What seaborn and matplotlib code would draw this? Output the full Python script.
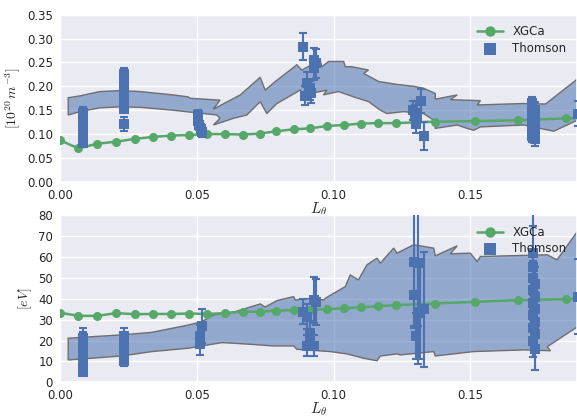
import numpy as np
import pandas as pd
import matplotlib
matplotlib.use("Agg")
import matplotlib.pyplot as plt
import seaborn as sns

# ---------------- data ----------------
xgca_x = [0.0, 0.0067, 0.0137, 0.0205, 0.0273, 0.0340, 0.0407, 0.0473, 0.0539, 0.0604,
          0.0668, 0.0732, 0.0791, 0.0854, 0.0915, 0.0976, 0.1038, 0.1100, 0.1164, 0.1229,
          0.1370, 0.1516, 0.1676, 0.1851, 0.2000]
xgca_ne = [0.087, 0.070, 0.080, 0.084, 0.090, 0.094, 0.097, 0.098, 0.100, 0.100,
           0.099, 0.101, 0.106, 0.110, 0.112, 0.117, 0.119, 0.122, 0.123, 0.123,
           0.126, 0.127, 0.129, 0.133, 0.135]
xgca_te = [33.3, 31.8, 31.8, 33.1, 32.6, 32.7, 32.7, 32.9, 32.7, 33.1,
           33.8, 33.8, 34.3, 34.5, 34.6, 35.0, 35.4, 35.9, 36.4, 36.9,
           37.7, 38.5, 39.3, 39.8, 40.5]

# Thomson density: x, value, error
th_ne_x = [0.0085] * 9 + [0.0234] * 9 + [0.0234] + \
          [0.0505, 0.0505, 0.0508, 0.0515, 0.0518] + \
          [0.0887, 0.0927, 0.0937, 0.0927, 0.0903, 0.0915, 0.0896, 0.0917] + \
          [0.1290, 0.1300, 0.1305, 0.1320, 0.1330, 0.1300, 0.1298] + \
          [0.1725] * 8 + [0.1738] * 4 + [0.1892]
th_ne = [0.082, 0.090, 0.098, 0.106, 0.114, 0.122, 0.130, 0.138, 0.144] + \
        [0.152, 0.162, 0.172, 0.182, 0.192, 0.202, 0.212, 0.222, 0.226] + [0.121] + \
        [0.140, 0.128, 0.118, 0.110, 0.104] + \
        [0.283, 0.255, 0.248, 0.238, 0.206, 0.192, 0.180, 0.185] + \
        [0.150, 0.145, 0.133, 0.170, 0.096, 0.122, 0.140] + \
        [0.095, 0.105, 0.115, 0.125, 0.135, 0.145, 0.155, 0.165] + [0.090, 0.110, 0.130, 0.150] + \
        [0.143]
th_ne_err = [0.009, 0.01, 0.01, 0.01, 0.01, 0.01, 0.01, 0.01, 0.012] + \
            [0.007, 0.01, 0.01, 0.01, 0.01, 0.01, 0.01, 0.01, 0.012] + [0.014] + \
            [0.011, 0.01, 0.01, 0.012, 0.01] + \
            [0.028, 0.025, 0.03, 0.025, 0.025, 0.02, 0.02, 0.02] + \
            [0.02, 0.025, 0.02, 0.025, 0.03, 0.02, 0.02] + \
            [0.012] * 8 + [0.015, 0.012, 0.012, 0.018] + [0.026]

# Thomson temperature: x, value, error
th_te_x = [0.0085] * 9 + [0.0234] * 7 + \
          [0.0518, 0.0510, 0.0512] + \
          [0.0887, 0.0903, 0.0927, 0.0937, 0.0915, 0.0903, 0.0927, 0.0915] + \
          [0.1293, 0.1310, 0.1295, 0.1317, 0.1330, 0.1300, 0.1310] + \
          [0.1728] * 8 + [0.1735] * 6 + [0.1892]
th_te = [5, 7, 9, 11, 13, 15, 17, 19, 21] + [10, 12, 14, 16, 18, 20, 22] + \
        [27.0, 22.2, 18.2] + \
        [33.8, 31.4, 39.4, 38.6, 23.5, 17.4, 17.4, 20.3] + \
        [57.8, 57.0, 41.8, 33.0, 35.0, 22.2, 33.8] + \
        [62, 55, 50, 44, 38, 32, 26, 20] + [47, 41, 35, 29, 23, 16] + \
        [41.0]
th_te_err = [2, 2, 2, 2, 2, 2, 2, 5, 5] + [2, 2, 2, 2, 2, 2, 3.8] + \
            [8, 5, 5] + \
            [6, 6, 11, 11, 6, 5, 5, 5] + \
            [32, 30, 15, 22, 27.5, 11, 25] + \
            [30, 20, 8, 8, 8, 8, 8, 8] + [8, 8, 8, 8, 8, 10] + \
            [18]

# model band (ne)
band_ne_xu = [0.0030, 0.0073, 0.0146, 0.0220, 0.0293, 0.0413, 0.0468, 0.0476, 0.0585, 0.0560,
              0.0659, 0.0732, 0.0750, 0.0787, 0.0866, 0.0884, 0.0951, 0.0957, 0.0982, 0.1037,
              0.1043, 0.1067, 0.1128, 0.1110, 0.1165, 0.1232, 0.1293, 0.1329, 0.1372, 0.1372,
              0.1452, 0.1427, 0.1537, 0.1525, 0.1695, 0.1775, 0.1891, 0.1939]
band_ne_yu = [0.176, 0.180, 0.189, 0.191, 0.189, 0.182, 0.178, 0.175, 0.171, 0.152,
              0.182, 0.219, 0.192, 0.210, 0.245, 0.234, 0.255, 0.241, 0.252, 0.252,
              0.241, 0.241, 0.234, 0.227, 0.210, 0.204, 0.200, 0.196, 0.185, 0.173,
              0.182, 0.172, 0.170, 0.161, 0.164, 0.163, 0.215, 0.235]
band_ne_xl = [0.0030, 0.0073, 0.0146, 0.0220, 0.0293, 0.0413, 0.0476, 0.0573, 0.0585, 0.0561,
              0.0634, 0.0683, 0.0732, 0.0756, 0.0793, 0.0878, 0.0890, 0.0976, 0.0963, 0.1018,
              0.1073, 0.1128, 0.1171, 0.1195, 0.1256, 0.1329, 0.1366, 0.1372, 0.1452, 0.1488,
              0.1512, 0.1537, 0.1695, 0.1805, 0.1891, 0.1939]
band_ne_yl = [0.140, 0.147, 0.155, 0.157, 0.156, 0.150, 0.146, 0.140, 0.133, 0.119,
              0.133, 0.140, 0.168, 0.143, 0.164, 0.192, 0.182, 0.192, 0.182, 0.189,
              0.178, 0.168, 0.150, 0.143, 0.147, 0.143, 0.129, 0.112, 0.119, 0.112,
              0.108, 0.115, 0.119, 0.106, 0.129, 0.140]

# model band (Te)
band_te_xu = [0.0030, 0.0226, 0.0336, 0.0469, 0.0518, 0.0561, 0.0640, 0.0732, 0.0750, 0.0793,
              0.0854, 0.0860, 0.0921, 0.0963, 0.0976, 0.1043, 0.1061, 0.1091, 0.1122, 0.1159,
              0.1171, 0.1220, 0.1232, 0.1293, 0.1366, 0.1372, 0.1452, 0.1427, 0.1500, 0.1525,
              0.1537, 0.1781, 0.1817, 0.1891, 0.1939]
band_te_yu = [21.1, 22.7, 23.9, 27.4, 29.0, 32.2, 33.8, 37.5, 36.0, 39.1,
              41.0, 39.4, 40.2, 39.4, 40.7, 45.8, 51.4, 49.0, 56.2, 59.4,
              57.0, 64.2, 61.8, 65.8, 64.2, 60.5, 65.3, 61.5, 61.8, 57.8,
              60.2, 61.0, 58.6, 72.1, 78.0]
band_te_xl = [0.0030, 0.0226, 0.0336, 0.0469, 0.0592, 0.0683, 0.0780, 0.0854, 0.0866, 0.0988,
              0.1049, 0.1110, 0.1159, 0.1171, 0.1232, 0.1244, 0.1366, 0.1372, 0.1512, 0.1695,
              0.1793, 0.1781, 0.1891, 0.1939]
band_te_yl = [10.7, 12.6, 14.7, 16.3, 19.0, 18.3, 17.4, 17.4, 15.8, 14.7,
              13.6, 11.5, 10.3, 12.6, 13.6, 13.1, 14.7, 12.6, 14.7, 15.5,
              15.1, 17.0, 26.5, 32.0]

xticks = [0.00, 0.05, 0.10, 0.15]
ne_ticks = [0.00, 0.05, 0.10, 0.15, 0.20, 0.25, 0.30, 0.35]
te_ticks = [0, 10, 20, 30, 40, 50, 60, 70, 80]

# ---------------- plotting ----------------
sns.set_theme(style="darkgrid")
plt.rcParams["font.family"] = ["DejaVu Sans"]
plt.rcParams["mathtext.fontset"] = "cm"

blue = "#4C72B0"
green = "#55A868"

fig = plt.figure(figsize=(5.77, 4.19), dpi=100)
ax1 = fig.add_axes([0.104, 0.566, 0.896, 0.399])
ax2 = fig.add_axes([0.104, 0.0876, 0.896, 0.399])


def draw(ax, bxu, byu, bxl, byl, mx, my, tx, ty, terr, yticks, ylim, ylabel, fmt):
    px = np.concatenate([bxu, bxl[::-1]])
    py = np.concatenate([byu, byl[::-1]])
    ax.fill(px, py, facecolor=(0.298, 0.447, 0.690, 0.55), edgecolor="#6e6e6e",
            linewidth=1.0, zorder=2)
    sns.lineplot(x=mx, y=my, ax=ax, color=green, marker="o", markersize=6.5,
                 markeredgewidth=0, linewidth=1.8, label="XGCa", zorder=3)
    ax.errorbar(tx, ty, yerr=terr, fmt="none", ecolor=blue, elinewidth=1.5,
                capsize=3, capthick=1.5, zorder=4)
    sns.scatterplot(x=tx, y=ty, ax=ax, color=blue, marker="s", s=60, linewidth=0,
                    label="Thomson", zorder=5)
    ax.set_xlim(0, 0.189)
    ax.set_ylim(*ylim)
    ax.set_xticks(xticks)
    ax.set_xticklabels([f"{t:.2f}" for t in xticks], fontsize=8.5)
    ax.set_yticks(yticks)
    ax.set_yticklabels([fmt.format(t) for t in yticks], fontsize=8.5)
    ax.set_xlabel(r"$L_\theta$", fontsize=11, labelpad=-1)
    ax.set_ylabel(ylabel, fontsize=10, labelpad=3)
    ax.tick_params(length=2, width=0.6, pad=3)
    ax.legend(loc="upper right", fontsize=8.5, frameon=False,
              bbox_to_anchor=(1.0, 1.0), handlelength=2.2, labelspacing=0.3,
              markerscale=1.15)


draw(ax1, band_ne_xu, band_ne_yu, band_ne_xl, band_ne_yl, xgca_x, xgca_ne,
     th_ne_x, th_ne, th_ne_err, ne_ticks, (0, 0.35), r"$[10^{20}\,m^{-3}]$", "{:.2f}")
draw(ax2, band_te_xu, band_te_yu, band_te_xl, band_te_yl, xgca_x, xgca_te,
     th_te_x, th_te, th_te_err, te_ticks, (0, 80), r"$[eV]$", "{:.0f}")

fig.savefig("out.png", dpi=100)
